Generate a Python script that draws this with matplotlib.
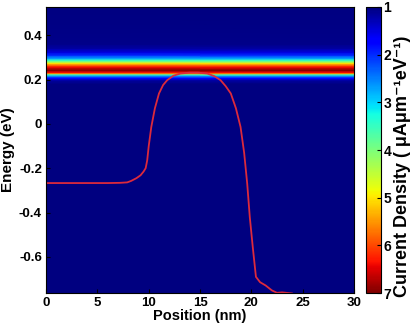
import numpy as np
import matplotlib
matplotlib.use('Agg')
import matplotlib.pyplot as plt

plt.rcParams['font.family'] = ['Liberation Sans', 'DejaVu Sans']
plt.rcParams['font.weight'] = 'bold'
plt.rcParams['axes.unicode_minus'] = False

#%% Data
# band profile (current density vs energy, same at every position)
band_E = [-0.80, 0.18, 0.197, 0.206, 0.215, 0.222, 0.228, 0.233, 0.242, 0.256,
          0.265, 0.274, 0.280, 0.287, 0.296, 0.31, 0.323, 0.34, 0.36, 0.55]
band_J = [1.0, 1.0, 1.2, 1.7, 2.5, 3.5, 5.6, 6.4, 7.0, 6.4,
          5.8, 5.0, 4.2, 3.5, 2.7, 2.0, 1.5, 1.2, 1.05, 1.0]
band_x = [0, 30]

# conduction band edge profile (red line)
pos = [0, 2, 4, 6, 7.2, 7.9, 8.3, 8.8, 9.2, 9.5, 9.7, 9.85, 10.0, 10.25, 10.6,
       11.0, 11.4, 11.8, 12.4, 13.1, 14.0, 14.8, 15.7, 16.4, 17.0, 17.5, 18.0,
       18.5, 18.95, 19.3, 19.6, 19.85, 20.15, 20.45, 20.85, 21.4, 22.0, 22.5,
       23.0, 24.0, 25.0, 30.0]
Ec = [-0.267, -0.267, -0.267, -0.267, -0.266, -0.264, -0.257, -0.245, -0.232,
      -0.215, -0.20, -0.165, -0.10, -0.014, 0.07, 0.137, 0.175, 0.197, 0.217,
      0.227, 0.231, 0.231, 0.227, 0.215, 0.197, 0.17, 0.137, 0.07, -0.014,
      -0.13, -0.27, -0.42, -0.56, -0.69, -0.714, -0.729, -0.751, -0.762,
      -0.76, -0.765, -0.80, -0.80]

xticks = [0, 5, 10, 15, 20, 25, 30]
yticks = [-0.6, -0.4, -0.2, 0, 0.2, 0.4]
yticklabels = ['-0.6', '-0.4', '-0.2', '0', '0.2', '0.4']
cticks = [1, 2, 3, 4, 5, 6, 7]

#%% Plotting
fig = plt.figure(figsize=(4.12, 3.33), dpi=100)
ax = fig.add_axes([0.112, 0.12, 0.747, 0.859])
cax = fig.add_axes([0.888, 0.12, 0.036, 0.859])

Z = np.tile(np.array(band_J)[:, None], (1, len(band_x)))
mesh = ax.pcolormesh(band_x, band_E, Z, shading='gouraud', cmap='jet',
                     vmin=1, vmax=7)
ax.plot(pos, Ec, '-', color='#dc2a3c', lw=1.3)

ax.set_xlim(0, 30)
ax.set_ylim(-0.763, 0.527)
ax.set_xticks(xticks)
ax.set_yticks(yticks)
ax.set_yticklabels(yticklabels)
ax.tick_params(direction='in', length=3, labelsize=9.5, pad=3)
ax.set_xlabel('Position (nm)', fontsize=10.5, fontweight='bold', labelpad=0)
ax.set_ylabel('Energy (eV)', fontsize=11, fontweight='bold', labelpad=3)

cb = fig.colorbar(mesh, cax=cax, ticks=cticks)
cax.invert_yaxis()
cax.tick_params(direction='in', length=3, labelsize=10, pad=2)
fig.text(0.977, 0.5, 'Current Density ( μAμm⁻¹eV⁻¹)', rotation=90,
         ha='center', va='center', fontsize=13, fontweight='bold')

fig.savefig('out.png', dpi=100)
